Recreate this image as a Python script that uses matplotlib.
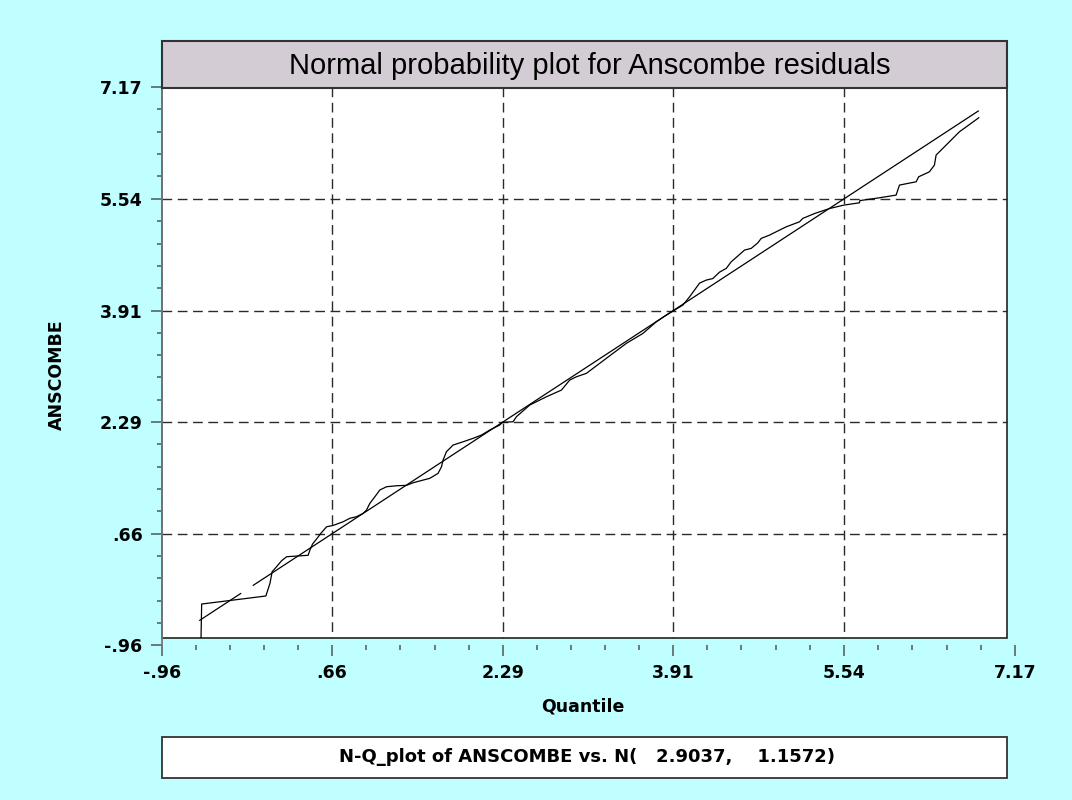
import numpy as np
import matplotlib.pyplot as plt
from matplotlib.patches import Rectangle

# normal quantiles (x) vs sorted Anscombe residuals (y)
quantile = [-0.589, -0.582, 0.030, 0.069, 0.090, 0.132, 0.180, 0.228, 0.323, 0.433,
            0.450, 0.475, 0.513, 0.554, 0.609, 0.669, 0.767, 0.830, 0.894, 0.957,
            0.989, 1.021, 1.069, 1.116, 1.180, 1.275, 1.370, 1.433, 1.529, 1.592,
            1.671, 1.704, 1.719, 1.751, 1.814, 1.910, 2.005, 2.085, 2.164, 2.259,
            2.285, 2.386, 2.418, 2.545, 2.704, 2.847, 2.926, 2.990, 3.085, 3.211,
            3.338, 3.466, 3.624, 3.751, 3.847, 3.910, 4.005, 4.069, 4.164, 4.228,
            4.290, 4.354, 4.418, 4.465, 4.513, 4.592, 4.656, 4.719, 4.751, 4.830,
            4.926, 4.990, 5.116, 5.148, 5.264, 5.407, 5.538, 5.688, 5.692, 5.878,
            6.037, 6.069, 6.228, 6.252, 6.354, 6.402, 6.418, 6.513, 6.640, 6.824]
anscombe = [-0.930, -0.363, -0.246, -0.061, 0.108, 0.181, 0.268, 0.326, 0.336, 0.347,
            0.424, 0.511, 0.584, 0.667, 0.763, 0.781, 0.836, 0.886, 0.909, 0.958,
            1.006, 1.104, 1.200, 1.298, 1.346, 1.360, 1.366, 1.404, 1.443, 1.468,
            1.541, 1.637, 1.735, 1.856, 1.953, 2.001, 2.051, 2.099, 2.172, 2.245,
            2.284, 2.293, 2.366, 2.536, 2.657, 2.754, 2.900, 2.948, 2.998, 3.143,
            3.289, 3.435, 3.580, 3.749, 3.847, 3.905, 3.993, 4.114, 4.313, 4.357,
            4.379, 4.473, 4.527, 4.623, 4.687, 4.794, 4.819, 4.900, 4.964, 5.012,
            5.085, 5.133, 5.206, 5.256, 5.329, 5.401, 5.449, 5.483, 5.515, 5.556,
            5.595, 5.741, 5.789, 5.862, 5.934, 6.032, 6.178, 6.323, 6.517, 6.721]

# 45 degree reference line (has a small break near the start in the original)
ref_x = [-0.60, -0.21, np.nan, -0.09, 6.82]

tick_vals = [-0.96, 0.66, 2.29, 3.91, 5.54, 7.17]
tick_labels = ['-.96', '.66', '2.29', '3.91', '5.54', '7.17']

mu, sigma = 2.9037, 1.1572
title = 'Normal probability plot for Anscombe residuals'
footer = f'N-Q_plot of ANSCOMBE vs. N({mu:9.4f}, {sigma:9.4f})'

bg = '#BFFFFF'
W, H = 1072, 800


def fx(px):
    return px / W


def fy(py):
    return 1 - py / H


fig = plt.figure(figsize=(W / 100, H / 100), dpi=100, facecolor=bg)
ax = fig.add_axes([fx(162), fy(645), fx(1015) - fx(162), fy(87) - fy(645)])
ax.set_facecolor('none')
ax.set_xlim(-0.96, 7.17)
ax.set_ylim(-0.96, 7.17)

# white plotting frame (slightly smaller than the tick range, like the original)
frame_right, frame_bottom = 7.09, -0.86
frame = Rectangle((-0.96, frame_bottom), frame_right + 0.96, 7.17 - frame_bottom,
                  facecolor='white', edgecolor='#222222', lw=1.2, zorder=0, clip_on=False)
ax.add_patch(frame)

# dashed grid at the inner ticks
inner = tick_vals[1:-1]
ax.vlines(inner, 7.17, frame_bottom, colors='#2a2a2a', linestyles=(0, (7, 4)), lw=1.0, zorder=1)
ax.hlines(inner, -0.96, frame_right, colors='#2a2a2a', linestyles=(0, (7, 4)), lw=1.0, zorder=1)

l1, = ax.plot(quantile, anscombe, color='black', lw=0.9, zorder=3)
l2, = ax.plot(ref_x, ref_x, color='black', lw=0.9, zorder=3)
for ln in (l1, l2):
    ln.set_clip_path(frame)

ax.set_xticks(tick_vals)
ax.set_xticklabels(tick_labels, fontweight='bold', fontsize=12.5)
ax.set_yticks(tick_vals)
ax.set_yticklabels(tick_labels, fontweight='bold', fontsize=12.5)
minor = np.concatenate([np.linspace(a, b, 6)[1:-1] for a, b in zip(tick_vals[:-1], tick_vals[1:])])
ax.set_xticks(minor, minor=True)
ax.set_yticks(minor, minor=True)
ax.tick_params(which='both', direction='out', color='#555555', width=1.1)
ax.tick_params(which='major', length=8, pad=6)
ax.tick_params(which='minor', length=3.6)

for s in ['top', 'right', 'bottom']:
    ax.spines[s].set_visible(False)
ax.spines['left'].set_color('#777777')
ax.spines['left'].set_linewidth(1.3)

fig.text(fx(583), fy(706), 'Quantile', ha='center', va='center', fontsize=12.5, fontweight='bold')
fig.text(fx(57), fy(375), 'ANSCOMBE', ha='center', va='center', rotation=90,
         fontsize=12.5, fontweight='bold')

# title box
fig.add_artist(Rectangle((fx(162), fy(87.5)), fx(1007) - fx(162), fy(41) - fy(87.5),
                         transform=fig.transFigure, facecolor='#D4CCD4',
                         edgecolor='#333333', lw=1.5))
fig.text(fx(590), fy(66), title, ha='center', va='center', fontsize=21,
         family=['Liberation Sans Narrow', 'Liberation Sans', 'DejaVu Sans'])

# footer box
fig.add_artist(Rectangle((fx(162), fy(778)), fx(1007) - fx(162), fy(737) - fy(778),
                         transform=fig.transFigure, facecolor='white',
                         edgecolor='#333333', lw=1.3))
fig.text(fx(587), fy(757.5), footer, ha='center', va='center', fontsize=13, fontweight='bold')

fig.savefig('out.png', dpi=100, facecolor=bg)
